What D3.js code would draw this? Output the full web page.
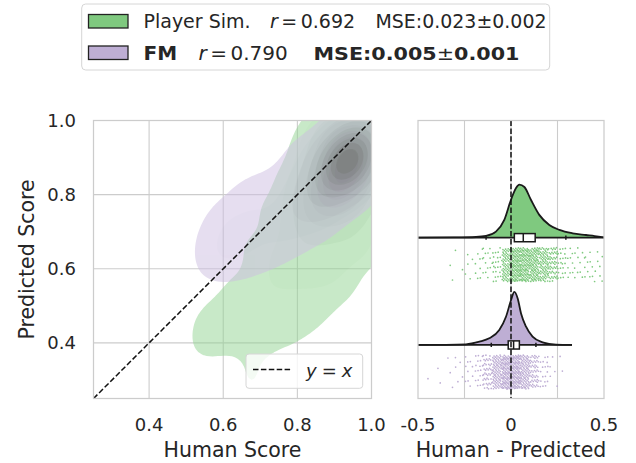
<!DOCTYPE html>
<html>
<head>
<meta charset="utf-8">
<script src="https://cdn.jsdelivr.net/npm/d3@7"></script>
<style>
  body { margin: 0; background: #fff; }
  svg { font-family: 'DejaVu Sans', sans-serif; }
</style>
</head>
<body>
<svg id="chart" width="636" height="463"></svg>
<script>
'use strict';

var groups = ['Player Sim.', 'FM'];
var groupColors = ['#7fc97f', '#beaed4'];
var corrValues = ['0.692', '0.790'];
var mseValues = ['0.023', '0.005'];
var mseErrors = ['0.002', '0.001'];

var scoreTicks = [0.4, 0.6, 0.8, 1.0];
var diffTicks = [-0.5, 0, 0.5];
var diffTickLabels = ['-0.5', '0', '0.5'];
var diffGrid = [-0.25, 0, 0.25];

// kde kernel centres: [human, predicted, weight]
var simCloud = [
  [0.93, 0.88, 7.5], [0.96, 0.92, 6], [0.90, 0.84, 6], [0.96, 0.85, 4.5], [0.88, 0.80, 4],
  [0.98, 0.96, 3.5], [0.92, 0.94, 3.5], [0.85, 0.76, 2.5], [0.93, 0.78, 2.5],
  [0.82, 0.71, 1.0], [0.90, 0.72, 1.0], [0.97, 0.76, 1.1], [0.78, 0.65, 0.8], [0.86, 0.65, 0.7],
  [0.95, 0.66, 0.7], [0.74, 0.60, 0.6], [0.82, 0.59, 0.5], [0.90, 0.60, 0.5], [0.98, 0.67, 0.5],
  [0.84, 0.92, 0.7], [0.88, 0.98, 0.7], [0.78, 0.84, 0.45], [0.72, 0.76, 0.4], [0.66, 0.67, 0.35],
  [0.60, 0.58, 0.3],
  [0.70, 0.54, 0.45], [0.78, 0.52, 0.4], [0.86, 0.54, 0.35], [0.93, 0.55, 0.3], [0.66, 0.48, 0.4],
  [0.74, 0.46, 0.35], [0.82, 0.45, 0.3], [0.88, 0.47, 0.2], [0.60, 0.48, 0.3], [0.55, 0.46, 0.3],
  [0.62, 0.42, 0.3], [0.70, 0.40, 0.3], [0.78, 0.39, 0.2], [0.54, 0.38, 0.25], [0.56, 0.40, 0.2],
  [0.67, 0.33, 0.25], [0.69, 0.28, 0.2], [0.66, 0.26, 0.12]
];
var fmCloud = [
  [0.945, 0.905, 7], [0.925, 0.885, 6], [0.965, 0.93, 5], [0.905, 0.86, 4], [0.95, 0.88, 3],
  [0.98, 0.96, 3], [0.88, 0.83, 3], [0.93, 0.86, 3],
  [0.86, 0.80, 1.4], [0.91, 0.81, 1.0], [0.84, 0.76, 0.9], [0.80, 0.74, 0.7], [0.88, 0.76, 0.6],
  [0.95, 0.80, 0.4], [0.82, 0.82, 0.6], [0.88, 0.90, 0.8], [0.93, 0.96, 0.9], [0.76, 0.70, 0.5],
  [0.78, 0.78, 0.45],
  [0.56, 0.60, 0.5], [0.56, 0.66, 0.5], [0.58, 0.71, 0.45], [0.62, 0.60, 0.5], [0.62, 0.66, 0.55],
  [0.63, 0.73, 0.5], [0.67, 0.78, 0.5], [0.68, 0.62, 0.55], [0.68, 0.69, 0.6], [0.72, 0.74, 0.55],
  [0.72, 0.83, 0.45], [0.74, 0.64, 0.5], [0.77, 0.88, 0.4], [0.80, 0.67, 0.4], [0.86, 0.70, 0.35],
  [0.80, 0.94, 0.4], [0.60, 0.76, 0.3], [0.66, 0.82, 0.3]
];

// half violins: [human - predicted, height relative to peak]
var simViolin = [
  [-0.5, 0], [-0.3, 0.004], [-0.188, 0.013], [-0.134, 0.032], [-0.081, 0.114], [-0.036, 0.335],
  [0, 0.715], [0.027, 0.937], [0.045, 1.0], [0.072, 0.956], [0.107, 0.715], [0.152, 0.43],
  [0.206, 0.24], [0.26, 0.146], [0.331, 0.082], [0.403, 0.05], [0.45, 0.03], [0.5, 0.005]
];
var fmViolin = [
  [-0.5, 0], [-0.35, 0.002], [-0.242, 0.0125], [-0.17, 0.0625], [-0.117, 0.125], [-0.063, 0.281],
  [-0.027, 0.531], [0, 0.844], [0.018, 1.0], [0.036, 0.875], [0.054, 0.594], [0.081, 0.344],
  [0.116, 0.156], [0.17, 0.05], [0.242, 0.006], [0.328, 0]
];

// boxes: [low whisker, q1, median, q3, high whisker]
var simBox = [-0.134, 0.018, 0.066, 0.13, 0.295];
var fmBox = [-0.106, -0.015, 0.014, 0.045, 0.134];

// strip points: counts per 0.05 bin from -0.5 to 0.5
var simStrip = [0, 0, 0, 2, 2, 5, 9, 13, 22, 80, 120, 120, 100, 80, 55, 22, 12, 10, 9, 7];
var fmStrip = [0, 1, 2, 3, 5, 10, 18, 45, 90, 130, 140, 95, 55, 18, 5, 2, 0, 0, 0, 0];

var svg = d3.select('#chart');
var textColor = '#262626';
var gridColor = '#cccccc';

var L = {left: 93.5, right: 371.5, top: 120.5, bottom: 398.5};
var R = {left: 418, right: 604, top: 120.5, bottom: 398.5};

var xs = d3.scaleLinear().domain([0.25, 1.0]).range([L.left, L.right]);
var ys = d3.scaleLinear().domain([0.25, 1.0]).range([L.bottom, L.top]);
var xd = d3.scaleLinear().domain([-0.5, 0.5]).range([R.left, R.right]);
var yd = d3.scaleLinear().domain([-1.092, 1.499]).range([R.top, R.bottom]);

var defs = svg.append('defs');
defs.append('clipPath').attr('id', 'clipL')
  .append('rect').attr('x', L.left).attr('y', L.top)
  .attr('width', L.right - L.left).attr('height', L.bottom - L.top);
defs.append('clipPath').attr('id', 'clipR')
  .append('rect').attr('x', R.left).attr('y', R.top)
  .attr('width', R.right - R.left).attr('height', R.bottom - R.top);

// ---------- left panel ----------
var left = svg.append('g');

left.selectAll('.gx').data(scoreTicks.slice(0, 3)).enter().append('line')
  .attr('x1', function(d) { return xs(d); }).attr('x2', function(d) { return xs(d); })
  .attr('y1', L.top).attr('y2', L.bottom)
  .style('stroke', gridColor).style('stroke-width', 1.1);
left.selectAll('.gy').data(scoreTicks.slice(0, 3)).enter().append('line')
  .attr('y1', function(d) { return ys(d); }).attr('y2', function(d) { return ys(d); })
  .attr('x1', L.left).attr('x2', L.right)
  .style('stroke', gridColor).style('stroke-width', 1.1);

var kdeLevels = function(cloud, bw) {
  var n = 160, lo = 0.05, hi = 1.25, step = (hi - lo) / (n - 1);
  var vals = new Array(n * n);
  for (var j = 0; j < n; j++) {
    for (var i = 0; i < n; i++) {
      var x = lo + i * step, y = lo + j * step, s = 0;
      cloud.forEach(function(p) {
        var dx = x - p[0], dy = y - p[1];
        s += p[2] * Math.exp(-(dx * dx + dy * dy) / (2 * bw * bw));
      });
      vals[i + j * n] = s;
    }
  }
  var sorted = vals.slice().sort(function(a, b) { return a - b; });
  var total = d3.sum(sorted), cum = 0, k = 0;
  var props = d3.range(10).map(function(i) { return 0.05 + i * 0.95 / 9; });
  var levels = [];
  for (var t = 0; t < sorted.length && k < props.length; t++) {
    cum += sorted[t];
    while (k < props.length && cum / total >= props[k] - 1e-12) { levels.push(sorted[t]); k++; }
  }
  while (levels.length < 10) levels.push(sorted[sorted.length - 1]);
  return {n: n, lo: lo, step: step, vals: vals, levels: levels};
};

var rampColor = function(base, v) {
  var c = d3.hcl(base);
  var l = 80 - 45 * v;
  var xx = 0.741 - 1.741 * v;
  return d3.hcl(c.h, c.c * Math.cos(xx) * (l / 80) * 1.2, l) + '';
};

var drawCloud = function(cloud, color, bw, alpha) {
  var k = kdeLevels(cloud, bw);
  var proj = d3.geoTransform({
    point: function(x, y) {
      this.stream.point(xs(k.lo + (x - 0.5) * k.step), ys(k.lo + (y - 0.5) * k.step));
    }
  });
  var path = d3.geoPath(proj);
  var lv = k.levels;
  var bands = d3.contours().size([k.n, k.n]).thresholds(lv.slice(0, 9))(k.vals);
  var g = left.append('g').attr('clip-path', 'url(#clipL)').style('opacity', alpha);
  g.selectAll('path').data(bands).enter().append('path')
    .attr('d', path)
    .style('fill', function(d, i) {
      var mid = (lv[i] + lv[i + 1]) / 2;
      return rampColor(color, (mid - lv[0]) / (lv[9] - lv[0]));
    })
    .style('stroke', 'none');
};

drawCloud(simCloud, groupColors[0], 0.047, 0.5);
drawCloud(fmCloud, groupColors[1], 0.045, 0.5);

left.append('line')
  .attr('x1', xs(0.25)).attr('y1', ys(0.25))
  .attr('x2', xs(1.0)).attr('y2', ys(1.0))
  .style('stroke', '#111').style('stroke-width', 1.5)
  .style('stroke-dasharray', '5.5,2.4');

left.append('rect')
  .attr('x', L.left).attr('y', L.top)
  .attr('width', L.right - L.left).attr('height', L.bottom - L.top)
  .style('fill', 'none').style('stroke', gridColor).style('stroke-width', 1.25);

left.selectAll('.tx').data(scoreTicks).enter().append('text')
  .attr('x', function(d) { return xs(d); })
  .attr('y', 424)
  .attr('text-anchor', 'middle')
  .attr('dominant-baseline', 'central')
  .style('font-size', '18px').style('fill', textColor)
  .text(function(d) { return d.toFixed(1); });
left.selectAll('.ty').data(scoreTicks).enter().append('text')
  .attr('x', 76)
  .attr('y', function(d) { return ys(d); })
  .attr('text-anchor', 'end')
  .attr('dominant-baseline', 'central')
  .style('font-size', '18px').style('fill', textColor)
  .text(function(d) { return d.toFixed(1); });

left.append('text')
  .attr('x', (L.left + L.right) / 2).attr('y', 450)
  .attr('text-anchor', 'middle').attr('dominant-baseline', 'central')
  .style('font-size', '20.5px').style('fill', textColor)
  .text('Human Score');
left.append('text')
  .attr('transform', 'translate(27,' + (L.top + L.bottom) / 2 + ') rotate(-90)')
  .attr('text-anchor', 'middle').attr('dominant-baseline', 'central')
  .style('font-size', '20.5px').style('fill', textColor)
  .text('Predicted Score');

// y = x legend
var lg = left.append('g').attr('transform', 'translate(' + (L.right - 125.5) + ',' + (L.bottom - 44.5) + ')');
lg.append('rect').attr('x', 0).attr('y', 0).attr('width', 116.7).attr('height', 34.3).attr('rx', 3)
  .style('fill', '#fff').style('fill-opacity', 0.8).style('stroke', '#d6d6d6').style('stroke-width', 1);
lg.append('line').attr('x1', 7).attr('x2', 45.7).attr('y1', 15.5).attr('y2', 15.5)
  .style('stroke', '#111').style('stroke-width', 1.5).style('stroke-dasharray', '5.5,2.4');
var lgt = lg.append('text').attr('x', 60).attr('y', 15.5)
  .attr('dominant-baseline', 'central')
  .style('font-size', '18px').style('fill', textColor);
lgt.append('tspan').style('font-style', 'italic').text('y');
lgt.append('tspan').attr('dx', 5).text('=');
lgt.append('tspan').attr('dx', 5).style('font-style', 'italic').text('x');

// ---------- right panel ----------
var right = svg.append('g');

right.selectAll('.gx').data(diffGrid).enter().append('line')
  .attr('x1', function(d) { return xd(d); }).attr('x2', function(d) { return xd(d); })
  .attr('y1', R.top).attr('y2', R.bottom)
  .style('stroke', gridColor).style('stroke-width', 1.1);

var violinHeight = 0.494;
var violins = [simViolin, fmViolin];
var boxes = [simBox, fmBox];
var strips = [simStrip, fmStrip];

var stripPoints = function(counts, gi) {
  var pts = [];
  counts.forEach(function(n, b) {
    for (var j = 0; j < n; j++) {
      var u = ((j + 1) * 0.7548776662 + b * 0.318) % 1;
      var v = ((j + 1) * 0.5698402910 + b * 0.127) % 1;
      pts.push([-0.5 + (b + u) * 0.05, gi + 0.093 + v * 0.317]);
    }
  });
  return pts;
};

var rg = right.append('g').attr('clip-path', 'url(#clipR)');

groups.forEach(function(name, gi) {
  var area = d3.area()
    .x(function(d) { return xd(d[0]); })
    .y0(yd(gi))
    .y1(function(d) { return yd(gi - d[1] * violinHeight); })
    .curve(d3.curveMonotoneX);
  var line = d3.line()
    .x(function(d) { return xd(d[0]); })
    .y(function(d) { return yd(gi - d[1] * violinHeight); })
    .curve(d3.curveMonotoneX);

  rg.append('path').datum(violins[gi])
    .attr('d', area)
    .style('fill', groupColors[gi]).style('stroke', 'none');
  rg.append('path').datum(violins[gi])
    .attr('d', line)
    .style('fill', 'none').style('stroke', '#1a1a1a').style('stroke-width', 1.8);
  rg.append('line')
    .attr('x1', xd(violins[gi][0][0])).attr('x2', xd(violins[gi][violins[gi].length - 1][0]))
    .attr('y1', yd(gi)).attr('y2', yd(gi))
    .style('stroke', '#1a1a1a').style('stroke-width', 1.8);

  rg.selectAll('.pt' + gi).data(stripPoints(strips[gi], gi)).enter().append('circle')
    .attr('cx', function(d) { return xd(d[0]); })
    .attr('cy', function(d) { return yd(d[1]); })
    .attr('r', 0.85)
    .style('fill', groupColors[gi]);

  var b = boxes[gi];
  var bh = 0.038;
  [b[0], b[4]].forEach(function(w) {
    rg.append('line')
      .attr('x1', xd(w)).attr('x2', xd(w))
      .attr('y1', yd(gi - 0.02)).attr('y2', yd(gi + 0.02))
      .style('stroke', '#1a1a1a').style('stroke-width', 1.5);
  });
  rg.append('rect')
    .attr('x', xd(b[1])).attr('y', yd(gi - bh))
    .attr('width', xd(b[3]) - xd(b[1])).attr('height', yd(gi + bh) - yd(gi - bh))
    .style('fill', '#fff').style('stroke', '#1a1a1a').style('stroke-width', 1.5);
  rg.append('line')
    .attr('x1', xd(b[2])).attr('x2', xd(b[2]))
    .attr('y1', yd(gi - bh)).attr('y2', yd(gi + bh))
    .style('stroke', '#1a1a1a').style('stroke-width', 1.5);
});

rg.append('line')
  .attr('x1', xd(0)).attr('x2', xd(0))
  .attr('y1', R.top).attr('y2', R.bottom)
  .style('stroke', '#111').style('stroke-width', 1.5)
  .style('stroke-dasharray', '5.5,2.4');

right.append('rect')
  .attr('x', R.left).attr('y', R.top)
  .attr('width', R.right - R.left).attr('height', R.bottom - R.top)
  .style('fill', 'none').style('stroke', gridColor).style('stroke-width', 1.25);

right.selectAll('.tx').data(diffTicks).enter().append('text')
  .attr('x', function(d) { return xd(d); })
  .attr('y', 424)
  .attr('text-anchor', 'middle').attr('dominant-baseline', 'central')
  .style('font-size', '18px').style('fill', textColor)
  .text(function(d, i) { return diffTickLabels[i]; });
right.append('text')
  .attr('x', (R.left + R.right) / 2).attr('y', 450)
  .attr('text-anchor', 'middle').attr('dominant-baseline', 'central')
  .style('font-size', '20.5px').style('fill', textColor)
  .text('Human - Predicted');

// ---------- top legend ----------
var leg = svg.append('g');
leg.append('rect').attr('x', 81.7).attr('y', 4).attr('width', 468).attr('height', 66).attr('rx', 4)
  .style('fill', '#fff').style('stroke', '#d6d6d6').style('stroke-width', 1);

var rowY = [21, 52.5];
var rowSize = [19, 20];
var mseX = [375.5, 313.5];
var mseWidth = [171, 206];
groups.forEach(function(name, gi) {
  var bold = gi === 1;
  var fs = rowSize[gi];
  leg.append('rect')
    .attr('x', 88.5).attr('y', rowY[gi] - 6.5).attr('width', 39.5).attr('height', 13.5)
    .style('fill', groupColors[gi]).style('stroke', '#222').style('stroke-width', 1.3);
  var t = leg.append('text').attr('y', rowY[gi]).attr('dominant-baseline', 'central')
    .style('font-size', fs + 'px').style('fill', textColor);
  t.append('tspan').attr('x', 143.5).style('font-weight', bold ? 'bold' : 'normal').text(name);
  t.append('tspan').attr('x', bold ? 198.5 : 270).style('font-style', 'italic').text('r');
  t.append('tspan').attr('dx', 3.5).text('=');
  t.append('tspan').attr('dx', 3.5).text(corrValues[gi]);

  var m = leg.append('text').attr('x', mseX[gi]).attr('y', rowY[gi])
    .attr('dominant-baseline', 'central')
    .attr('textLength', mseWidth[gi]).attr('lengthAdjust', 'spacingAndGlyphs')
    .style('font-size', (bold ? 18.5 : 19) + 'px').style('fill', textColor);
  m.append('tspan').style('font-weight', bold ? 'bold' : 'normal').text('MSE:' + mseValues[gi]);
  m.append('tspan').text('\u00b1');
  m.append('tspan').style('font-weight', bold ? 'bold' : 'normal').text(mseErrors[gi]);
});
</script>
</body>
</html>
